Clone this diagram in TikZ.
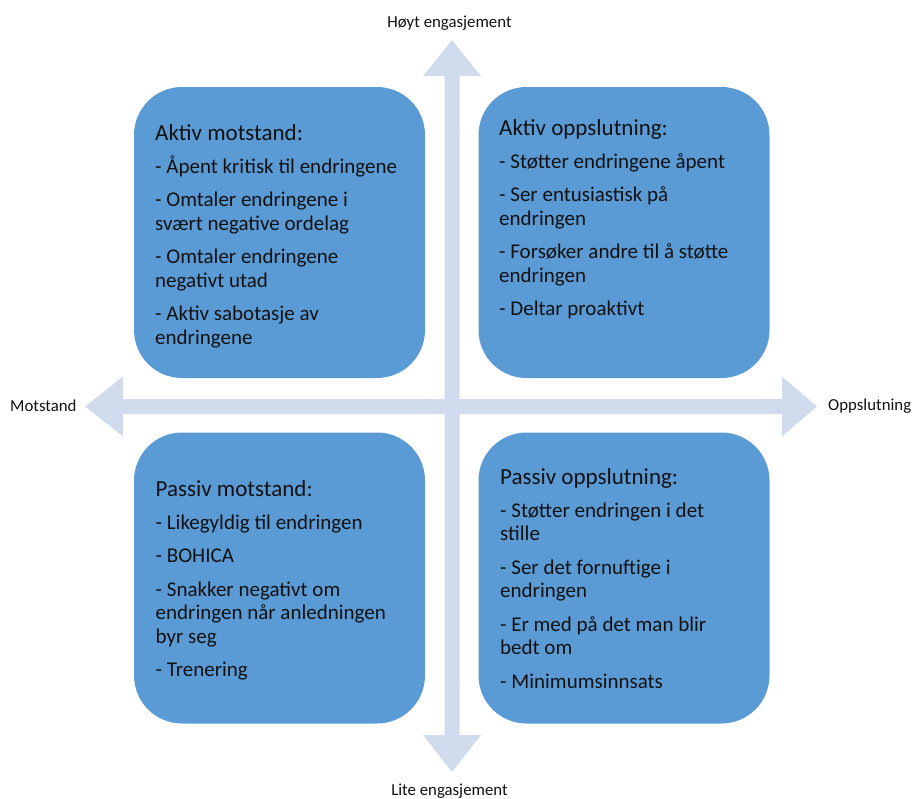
\documentclass[tikz,border=0pt]{standalone}
\usepackage{fontspec}
\setmainfont{Carlito}
\definecolor{boxblue}{HTML}{5B9BD5}
\definecolor{axisblue}{HTML}{D0DCEE}
\definecolor{ink}{HTML}{111111}
\newcommand{\qtitle}[1]{\hbox{\fontsize{23}{23}\selectfont #1}\vskip9.5pt}
\newcommand{\qgap}{\vskip10pt}
\newcommand{\qbody}[1]{\vtop{\baselineskip=23.5pt\lineskiplimit=-100pt #1}}
\begin{document}
\begin{tikzpicture}[x=1pt,y=-1pt,
  quad/.style={fill=boxblue, draw=none, rounded corners=48pt, inner sep=0pt,
    minimum width=291pt, minimum height=291pt},
  qtext/.style={anchor=base west, inner sep=0pt, text=ink,
    font=\fontsize{21}{23}\selectfont},
  axlabel/.style={anchor=base, inner sep=0pt, text=ink,
    font=\fontsize{16.8}{20}\selectfont},
  axis/.style={fill=axisblue, draw=none}]
\useasboundingbox (0,0) rectangle (913,798);

% axes
\fill[axis] (452,40) -- (481,76) -- (459.5,76) -- (459.5,735) -- (481,735)
  -- (452,772) -- (423,735) -- (444.5,735) -- (444.5,76) -- (423,76) -- cycle;
\fill[axis] (85,406.5) -- (123,376.5) -- (123,399) -- (782,399) -- (782,376.5)
  -- (817,406.5) -- (782,436.5) -- (782,414) -- (123,414) -- (123,436.5) -- cycle;

% quadrant boxes
\node[quad] (tl) at (279.5,232.5) {};
\node[quad] (tr) at (624,232.5) {};
\node[quad] (bl) at (279.5,578) {};
\node[quad] (br) at (624,578) {};

% texts
\node[qtext] (tltext) at (155,140) {\qbody{%
  \qtitle{Aktiv motstand:}
  \hbox{- Åpent kritisk til endringene}\qgap
  \hbox{- Omtaler endringene i}\hbox{svært negative ordelag}\qgap
  \hbox{- Omtaler endringene}\hbox{negativt utad}\qgap
  \hbox{- Aktiv sabotasje av}\hbox{endringene}}};
\node[qtext] (trtext) at (499,135) {\qbody{%
  \qtitle{Aktiv oppslutning:}
  \hbox{- Støtter endringene åpent}\qgap
  \hbox{- Ser entusiastisk på}\hbox{endringen}\qgap
  \hbox{- Forsøker andre til å støtte}\hbox{endringen}\qgap
  \hbox{- Deltar proaktivt}}};
\node[qtext] (bltext) at (155.5,496) {\qbody{%
  \qtitle{Passiv motstand:}
  \hbox{- Likegyldig til endringen}\qgap
  \hbox{- BOHICA}\qgap
  \hbox{- Snakker negativt om}\hbox{endringen når anledningen}\hbox{byr seg}\qgap
  \hbox{- Trenering}}};
\node[qtext] (brtext) at (500,484) {\qbody{%
  \qtitle{Passiv oppslutning:}
  \hbox{- Støtter endringen i det}\hbox{stille}\qgap
  \hbox{- Ser det fornuftige i}\hbox{endringen}\qgap
  \hbox{- Er med på det man blir}\hbox{bedt om}\qgap
  \hbox{- Minimumsinnsats}}};

% axis labels
\node[axlabel] (high) at (449.5,27) {Høyt engasjement};
\node[axlabel] (low) at (449.5,795) {Lite engasjement};
\node[axlabel, anchor=base west] (neg) at (10,411) {Motstand};
\node[axlabel, anchor=base west] (pos) at (828,410) {Oppslutning};
\end{tikzpicture}
\end{document}
